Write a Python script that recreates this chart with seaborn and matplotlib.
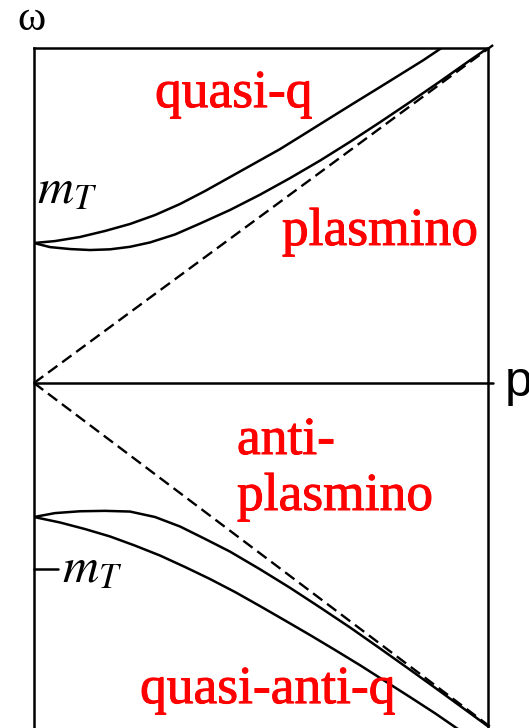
import matplotlib
matplotlib.use("Agg")
import matplotlib.pyplot as plt
import matplotlib.patheffects as pe
import seaborn as sns
import pandas as pd

# Dispersion branches of a fermion in a hot plasma, in units of the thermal mass m_T
p_quasi = [0.0, 0.111, 0.242, 0.374, 0.506, 0.638, 0.770, 0.901, 1.033, 1.165,
           1.297, 1.429, 1.560, 1.692, 1.824, 1.956, 2.051, 2.148]
w_quasi = [1.0, 1.014, 1.043, 1.086, 1.136, 1.200, 1.279, 1.371, 1.471, 1.571,
           1.671, 1.782, 1.893, 2.004, 2.114, 2.225, 2.305, 2.393]

p_plasmino = [0.0, 0.084, 0.190, 0.295, 0.401, 0.506, 0.611, 0.743, 0.875, 1.033,
              1.191, 1.350, 1.508, 1.666, 1.824, 1.982, 2.140, 2.298, 2.393]
w_plasmino = [1.0, 0.971, 0.957, 0.950, 0.955, 0.973, 1.004, 1.061, 1.139, 1.236,
              1.345, 1.464, 1.589, 1.723, 1.863, 2.007, 2.154, 2.305, 2.393]

p_antiplasmino = [0.0, 0.111, 0.242, 0.374, 0.506, 0.638, 0.770, 0.901, 1.033, 1.191,
                  1.350, 1.508, 1.666, 1.824, 1.982, 2.140, 2.298, 2.393]
w_antiplasmino = [-0.957, -0.929, -0.916, -0.913, -0.918, -0.957, -1.025, -1.113, -1.204,
                  -1.330, -1.463, -1.603, -1.746, -1.896, -2.048, -2.202, -2.358, -2.452]

p_antiquasi = [0.0, 0.137, 0.269, 0.401, 0.532, 0.664, 0.796, 0.928, 1.060, 1.191,
               1.323, 1.455, 1.587, 1.719, 1.850, 1.982, 2.114, 2.246]
w_antiquasi = [-0.957, -0.996, -1.043, -1.096, -1.161, -1.232, -1.314, -1.400, -1.493,
               -1.593, -1.696, -1.800, -1.907, -2.016, -2.129, -2.243, -2.359, -2.482]

# Light cone
p_cone = [0.0, 2.42]
w_cone_up = [0.0, 2.414]
w_cone_down = [0.0, -2.471]

branch_labels = ["quasi-q", "plasmino", "anti-plasmino", "quasi-anti-q"]

frames = []
for name, p, w in zip(branch_labels,
                      [p_quasi, p_plasmino, p_antiplasmino, p_antiquasi],
                      [w_quasi, w_plasmino, w_antiplasmino, w_antiquasi]):
    frames.append(pd.DataFrame({"p": p, "omega": w, "branch": name}))
curves = pd.concat(frames, ignore_index=True)

cone = pd.concat([
    pd.DataFrame({"p": p_cone, "omega": w_cone_up, "branch": "up"}),
    pd.DataFrame({"p": p_cone, "omega": w_cone_down, "branch": "down"}),
], ignore_index=True)

sns.set_style("white")
plt.rcParams["mathtext.fontset"] = "stix"

fig = plt.figure(figsize=(5.29, 7.28), dpi=100)
ax = fig.add_axes([34 / 529, 0.0, 454 / 529, 680 / 728])

sns.lineplot(data=curves, x="p", y="omega", units="branch", estimator=None,
             sort=False, color="black", lw=1.8, ax=ax, legend=False)
sns.lineplot(data=cone, x="p", y="omega", units="branch", estimator=None,
             sort=False, color="black", lw=1.7, ax=ax, legend=False)
for ln in ax.lines[:-2]:
    ln.set_solid_joinstyle("round")
for ln in ax.lines[-2:]:
    ln.set_dashes((4.9, 2.5))
    ln.set_clip_on(False)

# p axis through omega = 0
ax.plot([0, 2.42], [0, 0], color="black", lw=1.8, clip_on=False)

ax.set_xlim(0, 2.393)
ax.set_ylim(-2.464, 2.393)
ax.set_xticks([])
ax.set_yticks([])
ax.set_xlabel("")
ax.set_ylabel("")
for side in ["top", "left", "right"]:
    ax.spines[side].set_visible(True)
    ax.spines[side].set_linewidth(1.8)
    ax.spines[side].set_color("black")
ax.spines["bottom"].set_visible(False)

red = "#ff0000"
serif = "Liberation Serif"
kw = dict(color=red, family=serif, fontsize=38.5, ha="left", va="baseline",
          path_effects=[pe.withStroke(linewidth=0.7, foreground=red)])
ax.text(0.638, 1.971, "quasi-q", **kw)
ax.text(1.307, 0.986, "plasmino", **kw)
ax.text(1.070, -0.507, "anti-", **kw)
ax.text(1.070, -0.907, "plasmino", **kw)
ax.text(0.559, -2.286, "quasi-anti-q", **kw)

# Thermal mass markers
ax.text(0.016, 1.286, r"$m_T$", fontsize=36, ha="left", va="baseline", color="black")
ax.plot([0, 0.127], [-1.329, -1.329], color="black", lw=1.8, clip_on=False)
ax.text(0.148, -1.421, r"$m_T$", fontsize=36, ha="left", va="baseline", color="black")

# Axis names
ax.text(-0.09, 2.521, "ω", family=serif, fontsize=31, ha="left", va="baseline",
        color="black", clip_on=False)
ax.text(2.483, -0.093, "p", family="Liberation Sans", fontsize=36, ha="left",
        va="baseline", color="black", clip_on=False)

fig.savefig("out.png", dpi=100)
